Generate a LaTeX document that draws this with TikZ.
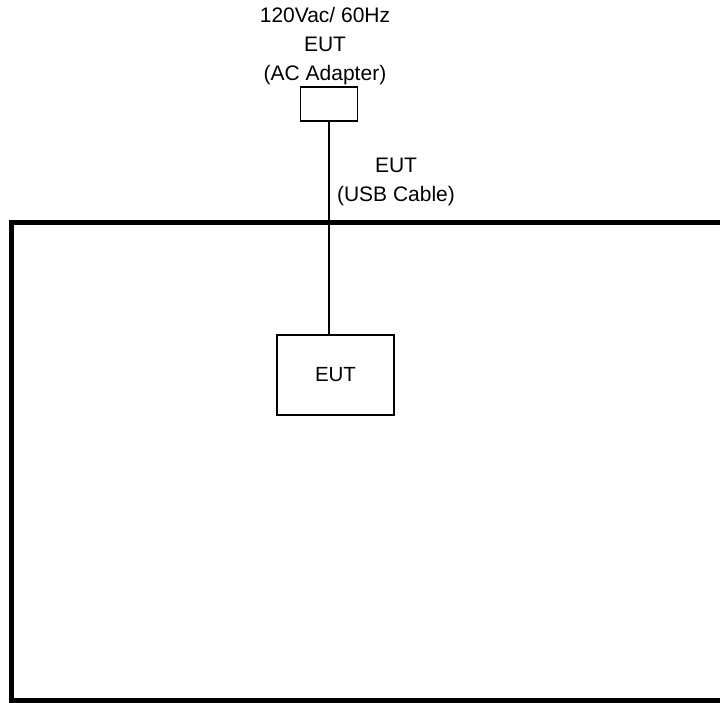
\documentclass[tikz,border=0pt]{standalone}
\usepackage{fontspec}
\setmainfont{Liberation Sans}
\begin{document}
\begin{tikzpicture}[x=1pt, y=-1pt,
  box/.style={draw, line width=1.6pt, minimum width=57pt, minimum height=34pt, inner sep=0pt},
  lbl/.style={align=center, font=\fontsize{21}{29}\selectfont}]
\useasboundingbox (0,0) rectangle (720,702);
\clip (0,0) rectangle (720,702);
\draw[line width=5pt] (11.5,222.5) rectangle (740,700.5);
\node[box] (adapter) at (329,104) {};
\node[box, minimum width=117pt, minimum height=80pt, font=\fontsize{20.5}{24}\selectfont] (eut) at (335.5,375) {EUT};
\draw[line width=1.6pt] (adapter) -- (adapter |- eut.north);
\node[lbl] (acl) at (325,46) {120Vac/ 60Hz\\EUT\\(AC Adapter)};
\node[lbl] (usbl) at (396,182) {EUT\\(USB Cable)};
\end{tikzpicture}
\end{document}
